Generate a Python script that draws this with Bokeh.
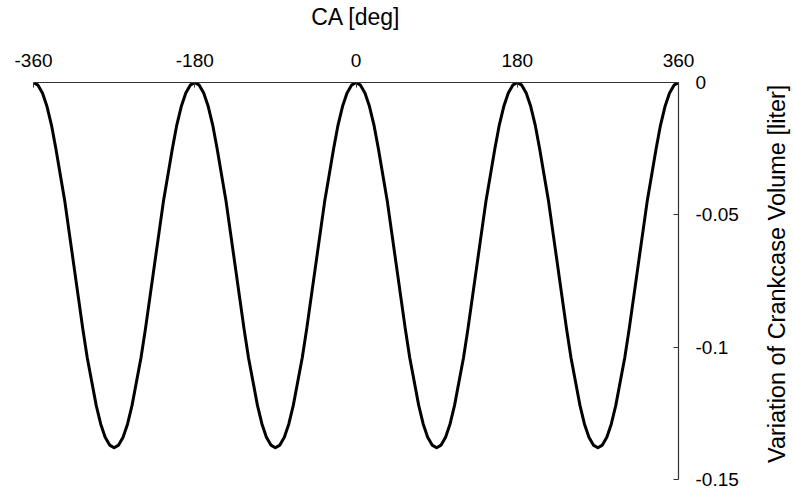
import math
from bokeh.plotting import figure
from bokeh.models import Range1d, FixedTicker
from bokeh.layouts import row
from bokeh.core.properties import value
from bokeh.embed import file_html
from bokeh.resources import INLINE

# Crank angle [deg]
ca_deg = [-360, -355, -350, -345, -340, -335, -330, -325, -320, -315, -310, -305,
          -300, -295, -290, -285, -280, -275, -270, -265, -260, -255, -250, -245,
          -240, -235, -230, -225, -220, -215, -210, -205, -200, -195, -190, -185,
          -180, -175, -170, -165, -160, -155, -150, -145, -140, -135, -130, -125,
          -120, -115, -110, -105, -100, -95, -90, -85, -80, -75, -70, -65,
          -60, -55, -50, -45, -40, -35, -30, -25, -20, -15, -10, -5,
          0, 5, 10, 15, 20, 25, 30, 35, 40, 45, 50, 55,
          60, 65, 70, 75, 80, 85, 90, 95, 100, 105, 110, 115,
          120, 125, 130, 135, 140, 145, 150, 155, 160, 165, 170, 175,
          180, 185, 190, 195, 200, 205, 210, 215, 220, 225, 230, 235,
          240, 245, 250, 255, 260, 265, 270, 275, 280, 285, 290, 295,
          300, 305, 310, 315, 320, 325, 330, 335, 340, 345, 350, 355,
          360]

# Variation of crankcase volume [liter]
volume_liter = [0.0, -0.001, -0.004, -0.009, -0.016, -0.025, -0.035, -0.045, -0.057, -0.069, -0.081, -0.093,
                -0.104, -0.113, -0.122, -0.129, -0.134, -0.137, -0.138, -0.137, -0.134, -0.129, -0.122, -0.113,
                -0.104, -0.093, -0.081, -0.069, -0.057, -0.045, -0.035, -0.025, -0.016, -0.009, -0.004, -0.001,
                0.0, -0.001, -0.004, -0.009, -0.016, -0.025, -0.035, -0.045, -0.057, -0.069, -0.081, -0.093,
                -0.104, -0.113, -0.122, -0.129, -0.134, -0.137, -0.138, -0.137, -0.134, -0.129, -0.122, -0.113,
                -0.104, -0.093, -0.081, -0.069, -0.057, -0.045, -0.035, -0.025, -0.016, -0.009, -0.004, -0.001,
                0.0, -0.001, -0.004, -0.009, -0.016, -0.025, -0.035, -0.045, -0.057, -0.069, -0.081, -0.093,
                -0.104, -0.113, -0.122, -0.129, -0.134, -0.137, -0.138, -0.137, -0.134, -0.129, -0.122, -0.113,
                -0.104, -0.093, -0.081, -0.069, -0.057, -0.045, -0.035, -0.025, -0.016, -0.009, -0.004, -0.001,
                0.0, -0.001, -0.004, -0.009, -0.016, -0.025, -0.035, -0.045, -0.057, -0.069, -0.081, -0.093,
                -0.104, -0.113, -0.122, -0.129, -0.134, -0.137, -0.138, -0.137, -0.134, -0.129, -0.122, -0.113,
                -0.104, -0.093, -0.081, -0.069, -0.057, -0.045, -0.035, -0.025, -0.016, -0.009, -0.004, -0.001,
                0.0]

x_ticks = [-360, -180, 0, 180, 360]
x_tick_labels = ["-360", "-180", "0", "180", "360"]
y_ticks = [0, -0.05, -0.1, -0.15]
y_tick_labels = ["0", "-0.05", "-0.1", "-0.15"]

x_title = "CA [deg]"
y_title = "Variation of Crankcase Volume [liter]"

FONT = "Liberation Sans"
TOTAL_H = 488

p = figure(frame_width=645, frame_height=397,
           x_range=Range1d(-360, 360), y_range=Range1d(-0.15, 0),
           x_axis_location="above", y_axis_location="right",
           output_backend="svg", toolbar_location=None,
           min_border_left=33, min_border_top=80, min_border_bottom=11,
           min_border_right=82)

p.xgrid.visible = False
p.ygrid.visible = False
p.outline_line_color = None
p.background_fill_color = "white"
p.border_fill_color = "white"

p.line(ca_deg, volume_liter, line_color="black", line_width=3, line_join="round")

for ax in (p.xaxis[0], p.yaxis[0]):
    ax.axis_line_color = "#333333"
    ax.axis_line_width = 1.2
    ax.major_tick_line_color = "#333333"
    ax.major_tick_in = 5
    ax.major_tick_out = 0
    ax.minor_tick_line_color = None
    ax.major_label_text_font = FONT
    ax.major_label_text_font_size = "19px"
    ax.major_label_text_color = "black"
    ax.axis_label_text_font = FONT
    ax.axis_label_text_font_size = "23px"
    ax.axis_label_text_font_style = "normal"
    ax.axis_label_text_color = "black"

xa = p.xaxis[0]
xa.ticker = FixedTicker(ticks=x_ticks)
xa.major_label_overrides = {t: s for t, s in zip(x_ticks, x_tick_labels)}
xa.axis_label = x_title
xa.major_label_standoff = 16
xa.axis_label_standoff = 21

ya = p.yaxis[0]
ya.ticker = FixedTicker(ticks=y_ticks)
ya.major_label_overrides = {t: s for t, s in zip(y_ticks, y_tick_labels)}
ya.major_label_standoff = 17

# narrow side panel (frame aligned with main frame) holding the rotated y title
side = figure(width=32, height=TOTAL_H, x_range=Range1d(0, 32), y_range=Range1d(-0.15, 0),
              output_backend="svg", toolbar_location=None,
              min_border=0, min_border_left=0, min_border_right=0,
              min_border_top=0, min_border_bottom=0)
side.axis.visible = False
side.xgrid.visible = False
side.ygrid.visible = False
side.outline_line_color = None
side.background_fill_color = "white"
side.border_fill_color = "white"
side.text(x=[16], y=[-0.1445], text=[y_title], angle=math.pi / 2,
          text_align="left", text_baseline="middle",
          text_font=value(FONT), text_font_size="23.5px", text_color="black")

layout = row(p, side, spacing=0)

open("out.html", "w").write(file_html(layout, INLINE))
